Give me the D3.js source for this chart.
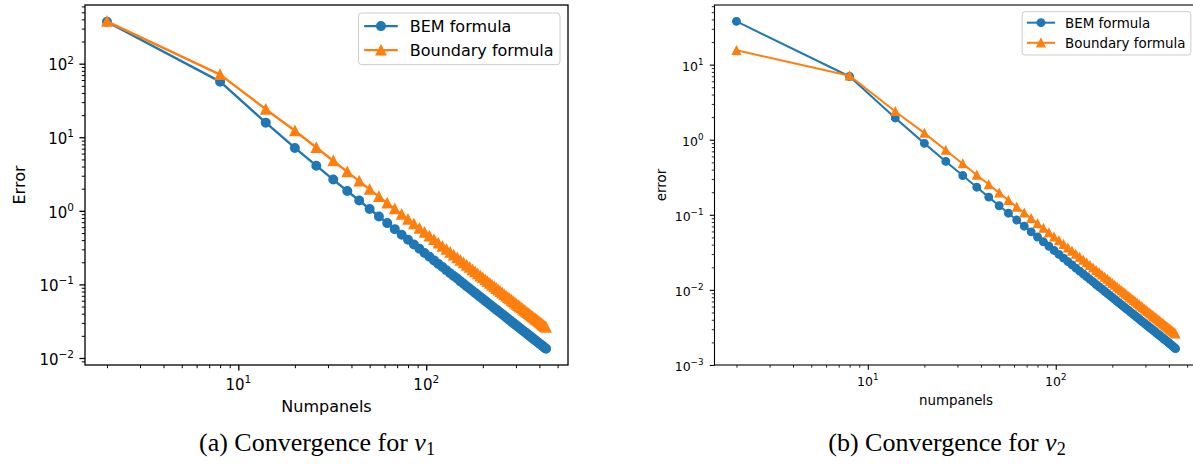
<!DOCTYPE html>
<html>
<head>
<meta charset="utf-8">
<script src="https://cdn.jsdelivr.net/npm/d3@7"></script>
<style>
  html, body { margin: 0; padding: 0; background: #fff; }
  svg { display: block; }
</style>
</head>
<body>
<svg id="fig" width="1193" height="464"></svg>
<script>
// Number of boundary panels used in each run
const numPanels = [2, 8, 14, 20, 26, 32, 38, 44, 50, 56, 62, 68, 74, 80, 86, 92, 98, 104, 110, 116,
  122, 128, 134, 140, 146, 152, 158, 164, 170, 176, 182, 188, 194, 200, 206, 212, 218, 224, 230, 236,
  242, 248, 254, 260, 266, 272, 278, 284, 290, 296, 302, 308, 314, 320, 326, 332, 338, 344, 350, 356,
  362, 368, 374, 380, 386, 392, 398, 404, 410, 416, 422, 428, 434];

// Error of the nu_1 computation
const bemNu1 = [372, 57, 15.8, 7.16, 4.11, 2.66, 1.86, 1.38, 1.058, 0.838, 0.681, 0.564, 0.474, 0.405,
  0.349, 0.305, 0.268, 0.238, 0.212, 0.190, 0.172, 0.156, 0.142, 0.130, 0.120, 0.110, 0.102, 0.0946,
  0.0880, 0.0820, 0.0767, 0.0718, 0.0674, 0.0634, 0.0597, 0.0564, 0.0533, 0.0505, 0.0479, 0.0454,
  0.0432, 0.0411, 0.0392, 0.0374, 0.0357, 0.0342, 0.0327, 0.0313, 0.0300, 0.0288, 0.0277, 0.0266,
  0.0256, 0.0246, 0.0237, 0.0229, 0.0221, 0.0213, 0.0206, 0.0199, 0.0192, 0.0186, 0.0180, 0.0174,
  0.0169, 0.0164, 0.0159, 0.0154, 0.0150, 0.0146, 0.0141, 0.0137, 0.0134];
const boundaryNu1 = [376, 71, 24.0, 12.25, 7.25, 4.79, 3.39, 2.53, 1.96, 1.56, 1.27, 1.06, 0.895, 0.766,
  0.663, 0.579, 0.510, 0.453, 0.405, 0.364, 0.329, 0.299, 0.273, 0.250, 0.230, 0.212, 0.196, 0.182,
  0.170, 0.158, 0.148, 0.139, 0.130, 0.1225, 0.1155, 0.109, 0.103, 0.0977, 0.0926, 0.0880, 0.0837,
  0.0797, 0.0760, 0.0725, 0.0693, 0.0662, 0.0634, 0.0608, 0.0583, 0.0559, 0.0537, 0.0517, 0.0497,
  0.0479, 0.0461, 0.0445, 0.0429, 0.0414, 0.0400, 0.0387, 0.0374, 0.0362, 0.0350, 0.0339, 0.0329,
  0.0319, 0.0309, 0.0300, 0.0292, 0.0283, 0.0275, 0.0268, 0.0260];

// Error of the nu_2 computation
const bemNu2 = [37.7, 6.95, 1.95, 0.894, 0.514, 0.333, 0.233, 0.172, 0.132, 0.105, 0.0851, 0.0705,
  0.0593, 0.0506, 0.0437, 0.0381, 0.0335, 0.0297, 0.0265, 0.0238, 0.0215, 0.0195, 0.0178, 0.0163,
  0.0150, 0.0138, 0.0128, 0.0118, 0.0110, 0.0103, 0.00959, 0.00898, 0.00843, 0.00793, 0.00747,
  0.00705, 0.00666, 0.00631, 0.00598, 0.00568, 0.00540, 0.00514, 0.00490, 0.00468, 0.00447, 0.00427,
  0.00409, 0.00391, 0.00375, 0.00360, 0.00346, 0.00333, 0.00320, 0.00308, 0.00297, 0.00286, 0.00276,
  0.00266, 0.00257, 0.00249, 0.00240, 0.00233, 0.00225, 0.00218, 0.00211, 0.00205, 0.00199, 0.00193,
  0.00187, 0.00181, 0.00176, 0.00170, 0.00165];
const boundaryNu2 = [15.5, 7.1, 2.38, 1.225, 0.725, 0.479, 0.339, 0.253, 0.196, 0.156, 0.127, 0.106,
  0.0895, 0.0766, 0.0663, 0.0579, 0.0510, 0.0453, 0.0405, 0.0364, 0.0329, 0.0299, 0.0273, 0.0250,
  0.0230, 0.0212, 0.0196, 0.0182, 0.0170, 0.0158, 0.0148, 0.0139, 0.0130, 0.01225, 0.01155, 0.0109,
  0.0103, 0.00977, 0.00926, 0.00880, 0.00837, 0.00797, 0.00760, 0.00725, 0.00693, 0.00662, 0.00634,
  0.00608, 0.00583, 0.00559, 0.00537, 0.00517, 0.00497, 0.00479, 0.00461, 0.00445, 0.00429, 0.00414,
  0.00400, 0.00387, 0.00374, 0.00362, 0.00350, 0.00339, 0.00329, 0.00319, 0.00309, 0.00300, 0.00292,
  0.00283, 0.00275, 0.00268, 0.00260];

const seriesNames = ["BEM formula", "Boundary formula"];
const seriesColors = ["#1f77b4", "#ff7f0e"];
const seriesMarkers = ["circle", "triangle"];

// Panel layout and styling
const panels = [
  {
    left: 85, top: 5, w: 483, h: 360,
    fs: 16, tickFs: 15, lw: 2.4, r: 4.2, tri: 4.6, mew: 1.6,
    majorLen: 5.6, minorLen: 3.2, majorW: 1.3, minorW: 1.0, spineW: 1.3,
    yLabelPad: 11, xTickBase: 25, supShift: 0.45, yTickDrop: 0.45,
    values: [bemNu1, boundaryNu1],
    xLabel: "Numpanels", xLabelY: 412,
    yLabel: "Error", yLabelX: 25,
    caption: "(a) Convergence for ", sub: "1", captionX: 317, captionY: 451
  },
  {
    left: 714.5, top: 5, w: 483, h: 360,
    fs: 13.4, tickFs: 12.5, lw: 2.0, r: 3.8, tri: 4.0, mew: 1.3,
    majorLen: 4.7, minorLen: 2.7, majorW: 1.1, minorW: 0.85, spineW: 1.1,
    yLabelPad: 11, xTickBase: 20.7, supShift: 0.45, yTickDrop: 0.48,
    values: [bemNu2, boundaryNu2],
    xLabel: "numpanels", xLabelY: 405,
    yLabel: "error", yLabelX: 666,
    caption: "(b) Convergence for ", sub: "2", captionX: 947, captionY: 451
  }
];

const svg = d3.select("#fig");
const sansFont = "'DejaVu Sans', sans-serif";

// Autoscale in log space with 5% margins on both sides
function paddedLogDomain(vals) {
  const lo = Math.log10(d3.min(vals)), hi = Math.log10(d3.max(vals));
  const m = 0.05 * (hi - lo);
  return [Math.pow(10, lo - m), Math.pow(10, hi + m)];
}

// Major (decade) and minor (2..9) tick positions inside a log domain
function logTicks(domain) {
  const major = [], minor = [];
  const d0 = Math.floor(Math.log10(domain[0])), d1 = Math.ceil(Math.log10(domain[1]));
  for (let d = d0; d <= d1; d++) {
    for (let k = 1; k <= 9; k++) {
      const v = k * Math.pow(10, d);
      if (v < domain[0] * 0.9999 || v > domain[1] * 1.0001) continue;
      (k === 1 ? major : minor).push(v);
    }
  }
  return { major, minor };
}

// "10" with a raised exponent
function powerLabel(sel, v, fs, shift) {
  const e = Math.round(Math.log10(v));
  sel.append("tspan").text("10");
  sel.append("tspan")
    .attr("dy", -shift * fs)
    .attr("font-size", fs * 0.7)
    .text(e < 0 ? "\u2212" + Math.abs(e) : String(e));
}

function markerPath(s) {
  return `M0,${-s}L${s},${s}L${-s},${s}Z`;
}

function drawMarker(g, kind, cx, cy, p, color) {
  if (kind === "circle") {
    g.append("circle").attr("cx", cx).attr("cy", cy).attr("r", p.r)
      .attr("fill", color).attr("stroke", color).attr("stroke-width", p.mew);
  } else {
    g.append("path").attr("d", markerPath(p.tri))
      .attr("transform", `translate(${cx},${cy})`)
      .attr("fill", color).attr("stroke", color).attr("stroke-width", p.mew)
      .attr("stroke-linejoin", "miter");
  }
}

panels.forEach(p => {
  const g = svg.append("g").attr("transform", `translate(${p.left},${p.top})`);

  const x = d3.scaleLog().domain(paddedLogDomain(numPanels)).range([0, p.w]);
  const y = d3.scaleLog().domain(paddedLogDomain(p.values.flat())).range([p.h, 0]);

  const xt = logTicks(x.domain());
  const yt = logTicks(y.domain());

  // Ticks
  const xMinor = g.append("g").attr("transform", `translate(0,${p.h})`)
    .call(d3.axisBottom(x).tickValues(xt.minor).tickSize(p.minorLen).tickSizeOuter(0).tickFormat(""));
  const xMajor = g.append("g").attr("transform", `translate(0,${p.h})`)
    .call(d3.axisBottom(x).tickValues(xt.major).tickSize(p.majorLen).tickSizeOuter(0).tickFormat(""));
  const yMinor = g.append("g")
    .call(d3.axisLeft(y).tickValues(yt.minor).tickSize(p.minorLen).tickSizeOuter(0).tickFormat(""));
  const yMajor = g.append("g")
    .call(d3.axisLeft(y).tickValues(yt.major).tickSize(p.majorLen).tickSizeOuter(0).tickFormat(""));
  [xMinor, xMajor, yMinor, yMajor].forEach(a => { a.select(".domain").remove(); a.selectAll("text").remove(); });
  [xMinor, yMinor].forEach(a => a.selectAll("line").attr("stroke", "#000").attr("stroke-width", p.minorW));
  [xMajor, yMajor].forEach(a => a.selectAll("line").attr("stroke", "#000").attr("stroke-width", p.majorW));

  // Tick labels
  xt.major.forEach(v => {
    const t = g.append("text").attr("x", x(v)).attr("y", p.h + p.xTickBase)
      .attr("text-anchor", "middle").attr("font-family", sansFont).attr("font-size", p.tickFs)
      .attr("fill", "#000");
    powerLabel(t, v, p.tickFs, p.supShift);
  });
  yt.major.forEach(v => {
    const t = g.append("text").attr("x", -p.yLabelPad).attr("y", y(v) + p.yTickDrop * p.tickFs)
      .attr("text-anchor", "end").attr("font-family", sansFont).attr("font-size", p.tickFs)
      .attr("fill", "#000");
    powerLabel(t, v, p.tickFs, p.supShift);
  });

  // Data
  p.values.forEach((vals, i) => {
    const pts = numPanels.map((n, j) => [n, vals[j]]);
    const line = d3.line().x(d => x(d[0])).y(d => y(d[1]));
    g.append("path").datum(pts).attr("d", line)
      .attr("fill", "none").attr("stroke", seriesColors[i]).attr("stroke-width", p.lw)
      .attr("stroke-linejoin", "round").attr("stroke-linecap", "square");
    const mg = g.append("g");
    pts.forEach(d => drawMarker(mg, seriesMarkers[i], x(d[0]), y(d[1]), p, seriesColors[i]));
  });

  // Frame
  g.append("rect").attr("x", 0).attr("y", 0).attr("width", p.w).attr("height", p.h)
    .attr("fill", "none").attr("stroke", "#000").attr("stroke-width", p.spineW);

  // Legend (upper right)
  const fs = p.fs;
  const lg = g.append("g");
  const box = lg.append("rect");
  const texts = seriesNames.map((name, i) =>
    lg.append("text").attr("font-family", sansFont).attr("font-size", fs).attr("fill", "#000").text(name));
  const textW = d3.max(texts, t => t.node().getComputedTextLength());
  const bw = 3.2 * fs + textW + 0.4 * fs;
  const bh = 3.23 * fs;
  const bx = p.w - 0.5 * fs - bw;
  const by = 0.5 * fs;
  box.attr("x", bx).attr("y", by).attr("width", bw).attr("height", bh).attr("rx", 0.2 * fs)
    .attr("fill", "#fff").attr("fill-opacity", 0.8).attr("stroke", "#cccccc").attr("stroke-width", 1);
  seriesNames.forEach((name, i) => {
    const cy = by + 0.82 * fs + i * 1.5 * fs;
    lg.append("line").attr("x1", bx + 0.35 * fs).attr("x2", bx + 2.45 * fs).attr("y1", cy).attr("y2", cy)
      .attr("stroke", seriesColors[i]).attr("stroke-width", p.lw);
    drawMarker(lg, seriesMarkers[i], bx + 1.4 * fs, cy, p, seriesColors[i]);
    texts[i].attr("x", bx + 3.2 * fs).attr("y", cy + 0.36 * fs).raise();
  });

  // Axis labels
  g.append("text").attr("x", p.w / 2).attr("y", p.xLabelY - p.top)
    .attr("text-anchor", "middle").attr("font-family", sansFont).attr("font-size", fs)
    .attr("fill", "#000").text(p.xLabel);
  svg.append("text")
    .attr("transform", `translate(${p.yLabelX},${p.top + p.h / 2}) rotate(-90)`)
    .attr("text-anchor", "middle").attr("font-family", sansFont).attr("font-size", fs)
    .attr("fill", "#000").text(p.yLabel);

  // Sub-figure caption
  const cfs = 26;
  const cap = svg.append("text").attr("x", p.captionX).attr("y", p.captionY)
    .attr("text-anchor", "middle").attr("font-family", "'Liberation Serif', 'DejaVu Serif', serif")
    .attr("font-size", cfs).attr("fill", "#000");
  cap.append("tspan").text(p.caption);
  cap.append("tspan").attr("font-style", "italic").text("\u03BD");
  cap.append("tspan").attr("font-size", cfs * 0.7).attr("dy", 0.17 * cfs).text(p.sub);
});
</script>
</body>
</html>
